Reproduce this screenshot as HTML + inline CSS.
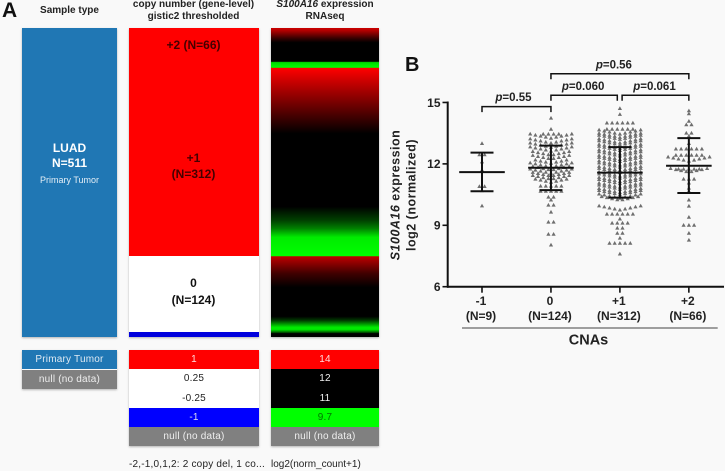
<!DOCTYPE html>
<html lang="en">
<head>
<meta charset="utf-8">
<title>S100A16 expression and copy number</title>
<style>
html,body{margin:0;padding:0;background:#f9f9f9;}
#page{position:relative;width:725px;height:471px;overflow:hidden;background:#f9f9f9;font-family:"Liberation Sans",sans-serif;color:#222;}
.abs{position:absolute;}
.c{position:absolute;text-align:center;white-space:nowrap;transform:translateX(-50%);line-height:12px;}
.h{font-weight:bold;font-size:10px;color:#222;}
.box{position:absolute;box-shadow:0 1px 2px rgba(0,0,0,.28);}
.row{position:absolute;left:0;width:100%;height:19.2px;line-height:19px;text-align:center;font-size:10px;letter-spacing:.2px;white-space:nowrap;}
svg text{font-family:"Liberation Sans",sans-serif;font-weight:bold;fill:#222;}
</style>
</head>
<body>
<div id="page">

  <div class="abs" style="left:2px;top:-1px;font:bold 21px/24px 'Liberation Sans',sans-serif;color:#111;">A</div>

  <div class="c h" style="left:69.5px;top:5px;">Sample type</div>
  <div class="c h" style="left:193.5px;top:-1px;">copy number (gene-level)</div>
  <div class="c h" style="left:193.5px;top:11px;">gistic2 thresholded</div>
  <div class="c h" style="left:325px;top:-1px;"><i>S100A16</i> expression</div>
  <div class="c h" style="left:325px;top:11px;">RNAseq</div>

  <div class="box" style="left:22px;top:27.5px;width:95px;height:309.5px;background:#2077b4;"></div>
  <div class="c" style="left:69.5px;top:142px;color:#fff;font-weight:bold;font-size:12px;">LUAD</div>
  <div class="c" style="left:69.5px;top:157px;color:#fff;font-weight:bold;font-size:12px;">N=511</div>
  <div class="c" style="left:69.5px;top:174px;color:#e4eef6;font-size:9px;">Primary Tumor</div>

  <div class="box" style="left:129px;top:27.5px;width:130px;height:309.5px;background:#fff;">
    <div class="abs" style="left:0;top:0;width:130px;height:228.5px;background:#f00;"></div>
    <div class="abs" style="left:0;top:304px;width:130px;height:5.5px;background:#00d;"></div>
  </div>
  <div class="c" style="left:193.5px;top:39px;font-weight:bold;font-size:12px;color:#400;">+2 (N=66)</div>
  <div class="c" style="left:193.5px;top:152px;font-weight:bold;font-size:12px;color:#400;">+1</div>
  <div class="c" style="left:193.5px;top:168px;font-weight:bold;font-size:12px;color:#400;">(N=312)</div>
  <div class="c" style="left:193.5px;top:277px;font-weight:bold;font-size:12px;color:#111;">0</div>
  <div class="c" style="left:193.5px;top:294px;font-weight:bold;font-size:12px;color:#111;">(N=124)</div>

  <svg class="box" id="rna" width="108" height="309.5" style="left:271px;top:27.5px;background:#000;"></svg>

  <div class="box" style="left:22px;top:350.3px;width:95px;height:38.6px;">
    <div class="row" style="top:0;background:#2077b4;color:#dfeaf3;">Primary Tumor</div>
    <div class="row" style="top:19.3px;background:#808080;color:#eee;">null (no data)</div>
  </div>
  <div class="box" style="left:129px;top:350.3px;width:130px;height:95.8px;">
    <div class="row" style="top:0;background:#f00;color:#fdd;">1</div>
    <div class="row" style="top:19.2px;background:#fff;color:#222;">0.25</div>
    <div class="row" style="top:38.4px;background:#fff;color:#222;">-0.25</div>
    <div class="row" style="top:57.6px;background:#00f;color:#dde;">-1</div>
    <div class="row" style="top:76.6px;background:#808080;color:#eee;">null (no data)</div>
  </div>
  <div class="box" style="left:271px;top:350.3px;width:108px;height:95.8px;">
    <div class="row" style="top:0;background:#f00;color:#fdd;">14</div>
    <div class="row" style="top:19.2px;background:#000;color:#eee;">12</div>
    <div class="row" style="top:38.4px;background:#000;color:#eee;">11</div>
    <div class="row" style="top:57.6px;background:#0f0;color:#070;">9.7</div>
    <div class="row" style="top:76.6px;background:#808080;color:#eee;">null (no data)</div>
  </div>

  <div class="abs" style="left:129px;top:459px;font-size:10px;line-height:12px;white-space:nowrap;letter-spacing:.2px;">-2,-1,0,1,2: 2 copy del, 1 co...</div>
  <div class="abs" style="left:271px;top:459px;font-size:10px;line-height:12px;white-space:nowrap;">log2(norm_count+1)</div>

  <svg class="abs" id="chart" width="725" height="471" style="left:0;top:0;pointer-events:none;"></svg>
</div>

<script>
// Heatmap column: sample rank (% of samples) and expression at that rank
var rnaRanks = [0,0.8,3.4,4.7,10.5,10.8,11.1,12.8,12.9,19.1,29.9,34.1,57.7,62.2,64.8,67.6,73.7,73.8,79.3,83.8,93.2,94.5,96.7,97.4,98.3,98.7,100];
var rnaExpression = [13.6,13.4,12.4,12,11.5,11,9.9,9.7,14,13.4,12.4,12,11,10.67,10.35,9.8,9.7,13.5,12.5,12,11,10.7,9.8,9.8,10.5,11,11.5];

// Scatter chart
var yTicks = [6,9,12,15];
var categories = ["-1","0","+1","+2"];
var categoryCounts = ["(N=9)","(N=124)","(N=312)","(N=66)"];
var means = [11.60,11.81,11.57,11.91];
var upperBars = [12.55,12.89,12.82,13.26];
var lowerBars = [10.66,10.72,10.35,10.58];

var rowValuesA = [13.0,12.45,12.1,11.7,10.9,10.7,9.95];
var rowCountsA = [1,2,1,1,2,1,1];

var rowValuesB = [14.24,13.70,13.46,13.26,13.02,12.82,12.63,12.43,12.24,12.04,11.85,11.70,11.55,11.41,11.26,11.11,10.92,10.67,10.38,10.24,9.99,9.65,9.16,8.57,8.04];
var rowCountsB = [1,1,4,9,9,9,9,8,8,7,9,8,9,8,8,7,5,5,2,1,2,1,2,2,1];

var rowValuesC = [14.71,14.42,14.0,13.7,13.46,13.30,13.20,13.03,12.93,12.76,12.66,12.49,12.39,12.22,12.12,11.95,11.85,11.68,11.58,11.41,11.31,11.14,11.04,10.87,10.77,10.60,10.50,10.33,10.23,9.75,9.55,9.31,9.11,8.87,8.62,8.38,8.13,7.6];
var rowCountsC = [1,1,6,6,9,9,9,9,9,9,9,9,9,9,9,9,9,9,9,9,9,9,9,9,9,9,9,9,8,9,6,1,4,2,2,1,5,1];

var rowValuesD = [14.60,14.45,14.09,13.92,13.51,13.36,13.0,12.73,12.43,12.14,11.75,11.60,11.26,11.07,10.82,10.67,10.24,9.94,9.40,9.01,8.62,8.28];
var rowCountsD = [1,1,1,2,2,1,1,6,6,9,5,8,3,1,1,1,1,1,1,3,1,1];

var comparisonLabels = ["0.55","0.060","0.061","0.56"];
var comparisonFrom = [0,1,2,1];
var comparisonTo = [1,2,3,3];
var comparisonLevel = [14.8,15.35,15.35,16.4];

var NS = "http://www.w3.org/2000/svg";
var svg = document.getElementById("chart");
var rna = document.getElementById("rna");

function yOf(v){ return 286.7 - (v - 6) * 20.47; }
function xOf(i){ return 482 + i * 68.95; }
function make(parent, tag, attrs, txt){
  var e = document.createElementNS(NS, tag);
  for (var k in attrs) e.setAttribute(k, attrs[k]);
  if (txt !== undefined) e.textContent = txt;
  parent.appendChild(e);
  return e;
}
function rnaColor(v){
  var r = v > 12 ? Math.min(255, Math.round((v - 12) / 2 * 255)) : 0;
  var g = v < 11 ? Math.min(255, Math.round((11 - v) / 1.3 * 255)) : 0;
  return "rgb(" + r + "," + g + ",0)";
}

// Heatmap
var defs = make(rna, "defs", {});
var grad = make(defs, "linearGradient", {id:"rnaGrad", x1:"0", y1:"0", x2:"0", y2:"1"});
rnaRanks.forEach(function(r, i){
  make(grad, "stop", {offset:(r) + "%", "stop-color":rnaColor(rnaExpression[i])});
});
var rnaRect = make(rna, "rect", {x:0, y:0, width:108, height:309.5, fill:"url(#rnaGrad)"});



// Panel label
var bLabel = make(svg, "text", {x:405, y:71, "font-size":20, style:"fill:#111"}, "B");



// Axes
var yAxis = make(svg, "line", {x1:447.7, x2:447.7, y1:yOf(15)-1, y2:yOf(6)+1, stroke:"#111", "stroke-width":2});


var xAxis = make(svg, "line", {x1:447, x2:724, y1:yOf(6), y2:yOf(6), stroke:"#111", "stroke-width":2});



yTicks.forEach(function(t){
  var tick = make(svg, "line", {x1:442.5, x2:447.7, y1:yOf(t), y2:yOf(t), stroke:"#111", "stroke-width":1.6});
  
  
  var label = make(svg, "text", {x:440.5, y:yOf(t)+4.3, "text-anchor":"end", "font-size":12}, String(t));
  
  
});

categories.forEach(function(c, i){
  var tick = make(svg, "line", {x1:xOf(i), x2:xOf(i), y1:yOf(6), y2:yOf(6)+6, stroke:"#111", "stroke-width":1.6});
  
  
  var label = make(svg, "text", {x:xOf(i)-1, y:305, "text-anchor":"middle", "font-size":12}, c);
  
  
  var count = make(svg, "text", {x:xOf(i)-1, y:320, "text-anchor":"middle", "font-size":12}, categoryCounts[i]);
  
  
});

var rule = make(svg, "line", {x1:462, x2:717.7, y1:328, y2:328, stroke:"#444", "stroke-width":1});


var xTitle = make(svg, "text", {x:588.5, y:344.5, "text-anchor":"middle", "font-size":14.5}, "CNAs");



var yTitle1 = make(svg, "text", {transform:"translate(399.5,195) rotate(-90)", "text-anchor":"middle", "font-size":12.5, "letter-spacing":"0.5"});


make(yTitle1, "tspan", {"font-style":"italic"}, "S100A16");
make(yTitle1, "tspan", {}, " expression");
var yTitle2 = make(svg, "text", {transform:"translate(415.5,195) rotate(-90)", "text-anchor":"middle", "font-size":12.5, "letter-spacing":"0.5"}, "log2 (normalized)");



// Swarm points
function drawSwarm(groupIndex, values, counts){
  var cx = xOf(groupIndex);
  var gap = 5.2;
  values.forEach(function(v, r){
    var n = counts[r];
    for (var k = 0; k < n; k++){
      var dx = (k - (n - 1) / 2) * gap;
      var lift = n >= 7 ? Math.abs(dx) * 0.2 : 0;
      var px = cx + dx;
      var py = yOf(v) - lift;
      var tri = make(svg, "path", {d:"M" + px.toFixed(1) + " " + (py-2.1).toFixed(1) + "l2.1 3.7h-4.2z", fill:"#6e6e6e"});
      
      
    }
  });
}
drawSwarm(0, rowValuesA, rowCountsA);
drawSwarm(1, rowValuesB, rowCountsB);
drawSwarm(2, rowValuesC, rowCountsC);
drawSwarm(3, rowValuesD, rowCountsD);

// Mean and error bars
categories.forEach(function(c, i){
  var x = xOf(i);
  var stem = make(svg, "line", {x1:x, x2:x, y1:yOf(upperBars[i]), y2:yOf(lowerBars[i]), stroke:"#111", "stroke-width":2});
  
  
  var meanLine = make(svg, "line", {x1:x-22.8, x2:x+22.8, y1:yOf(means[i]), y2:yOf(means[i]), stroke:"#111", "stroke-width":2});
  
  
  var upCap = make(svg, "line", {x1:x-11.5, x2:x+11.5, y1:yOf(upperBars[i]), y2:yOf(upperBars[i]), stroke:"#111", "stroke-width":2});
  
  
  var lowCap = make(svg, "line", {x1:x-11.5, x2:x+11.5, y1:yOf(lowerBars[i]), y2:yOf(lowerBars[i]), stroke:"#111", "stroke-width":2});
  
  
});

// Significance brackets
var labelNudge = [-3,-1,-1,-6];
comparisonLabels.forEach(function(p, i){
  var adjacentRight = i === 2 ? 2.2 : 0;
  var adjacentLeft = i === 1 ? 2.6 : 0;
  var x1 = xOf(comparisonFrom[i]) + adjacentRight;
  var x2 = xOf(comparisonTo[i]) - adjacentLeft;
  var y = yOf(comparisonLevel[i]);
  var br = make(svg, "path", {d:"M"+x1+" "+(y+5.5)+"V"+y+"H"+x2+"V"+(y+5.5), fill:"none", stroke:"#111", "stroke-width":1.5});
  
  
  var t = make(svg, "text", {x:(x1+x2)/2 + labelNudge[i], y:y-5.5, "text-anchor":"middle", "font-size":11.5});
  
  
  make(t, "tspan", {"font-style":"italic"}, "p");
  make(t, "tspan", {}, "=" + p);
});
</script>
</body>
</html>
